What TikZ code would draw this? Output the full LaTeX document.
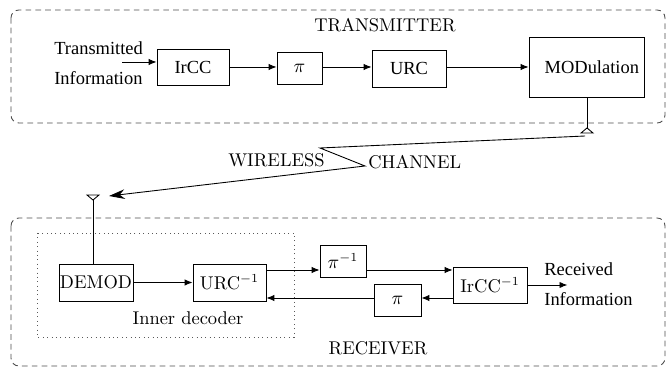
\documentclass[tikz,border=0pt]{standalone}
\usepackage{fontspec}
\usepackage{tikz}
\usetikzlibrary{arrows.meta,positioning,calc}
\newfontfamily\tnr{Liberation Serif}

\begin{document}
\begin{tikzpicture}[
    x=0.02cm, y=-0.02cm,
    block/.style={rectangle, draw, line width=0.5pt, inner sep=0pt, font=\fontsize{10.5}{12}\selectfont},
    tblock/.style={block, font=\tnr\fontsize{10.5}{12}\selectfont},
    lbl/.style={inner sep=0pt, font=\fontsize{10.5}{12}\selectfont},
    tlbl/.style={lbl, font=\tnr\fontsize{10.5}{12}\selectfont},
    unit/.style={rounded corners=4.5pt, draw=black!70, line width=0.5pt, dash pattern=on 3.2pt off 2.4pt},
    >={Latex[length=4.5pt,width=3.6pt]}
]
    \useasboundingbox (0,0) rectangle (668,367);

    % Transmitter
    \draw[unit] (11,10) rectangle (665,123);
    \node[lbl] (txlbl) at (385,25) {TRANSMITTER};
    \node[tlbl, anchor=west, align=left] (txin) at (54,63) {Transmitted\\[5pt]Information};
    \node[tblock, minimum width=1.44cm, minimum height=0.72cm] (ircc) at (193,67) {IrCC};
    \node[block, minimum width=0.9cm, minimum height=0.64cm] (pitx) at (299.5,68) {$\pi$};
    \node[tblock, minimum width=1.48cm, minimum height=0.74cm] (urc) at (409,68.5) {URC};
    \node[tblock, minimum width=2.3cm, minimum height=1.2cm, text width=2.1cm, align=right] (mod) at (586.5,67) {MODulation};

    \coordinate (tin) at (122,62);
    \draw[->, line width=0.5pt] (tin) -- (tin -| ircc.west);
    \draw[->, line width=0.5pt] (ircc.east |- 0,67) -- (pitx.west |- 0,67);
    \draw[->, line width=0.5pt] (pitx.east |- 0,67) -- (urc.west |- 0,67);
    \draw[->, line width=0.5pt] (urc.east |- 0,67) -- (mod.west |- 0,67);

    % Antennas and channel
    \coordinate (txant) at (587,128);
    \draw[line width=0.5pt] (mod.south -| txant) -- (txant);
    \draw[line width=0.5pt] (txant) -- ++(-6,5) -- ++(12,0) -- cycle;
    \coordinate (rxant) at (93,200);
    \draw[line width=0.5pt] (rxant) -- ++(-6,-5) -- ++(12,0) -- cycle;

    \coordinate (ch1) at (585,136);
    \coordinate (ch2) at (320,148);
    \coordinate (ch3) at (365,166);
    \coordinate (ch4) at (109,196);
    \draw[-{Stealth[length=9pt,width=5.5pt]}, line width=0.5pt] (ch1) -- (ch2) -- (ch3) -- (ch4);
    \node[lbl, anchor=east] (wless) at (325,160) {WIRELESS};
    \node[lbl, anchor=west] (chan) at (368,162) {CHANNEL};

    % Receiver
    \draw[unit] (11,218) rectangle (665,366);
    \node[lbl] (rxlbl) at (378,348) {RECEIVER};
    \draw[black!65, line width=0.5pt, dotted] (37,233) rectangle (294,337);
    \node[lbl] (inner) at (188,318) {Inner decoder};

    \node[block, minimum width=1.48cm, minimum height=0.74cm] (demod) at (96,282.5) {DEMOD};
    \node[block, minimum width=1.46cm, minimum height=0.74cm] (urci) at (229.5,282.5) {URC$^{-1}$};
    \node[block, minimum width=0.92cm, minimum height=0.64cm] (piinv) at (343,261) {$\pi^{-1}$};
    \node[block, minimum width=1.48cm, minimum height=0.72cm] (ircci) at (490,285) {IrCC$^{-1}$};
    \node[block, minimum width=0.94cm, minimum height=0.64cm] (pirx) at (397.5,300) {$\pi$};
    \node[tlbl, anchor=west, align=left] (rxout) at (544,284) {Received\\[5pt]Information};

    \coordinate (fwd) at (0,270);
    \coordinate (bwd) at (0,298);
    \draw[line width=0.5pt] (rxant) -- (rxant |- demod.north);
    \draw[->, line width=0.5pt] (demod) -- (urci);
    \draw[->, line width=0.5pt] (urci.east |- fwd) -- (piinv.west |- fwd);
    \draw[->, line width=0.5pt] (piinv.east |- fwd) -- (ircci.west |- fwd);
    \draw[->, line width=0.5pt] (ircci.west |- bwd) -- (pirx.east |- bwd);
    \draw[->, line width=0.5pt] (pirx.west |- bwd) -- (urci.east |- bwd);
    \draw[->, line width=0.5pt] (ircci.east) -- ++(40,0);
\end{tikzpicture}
\end{document}
